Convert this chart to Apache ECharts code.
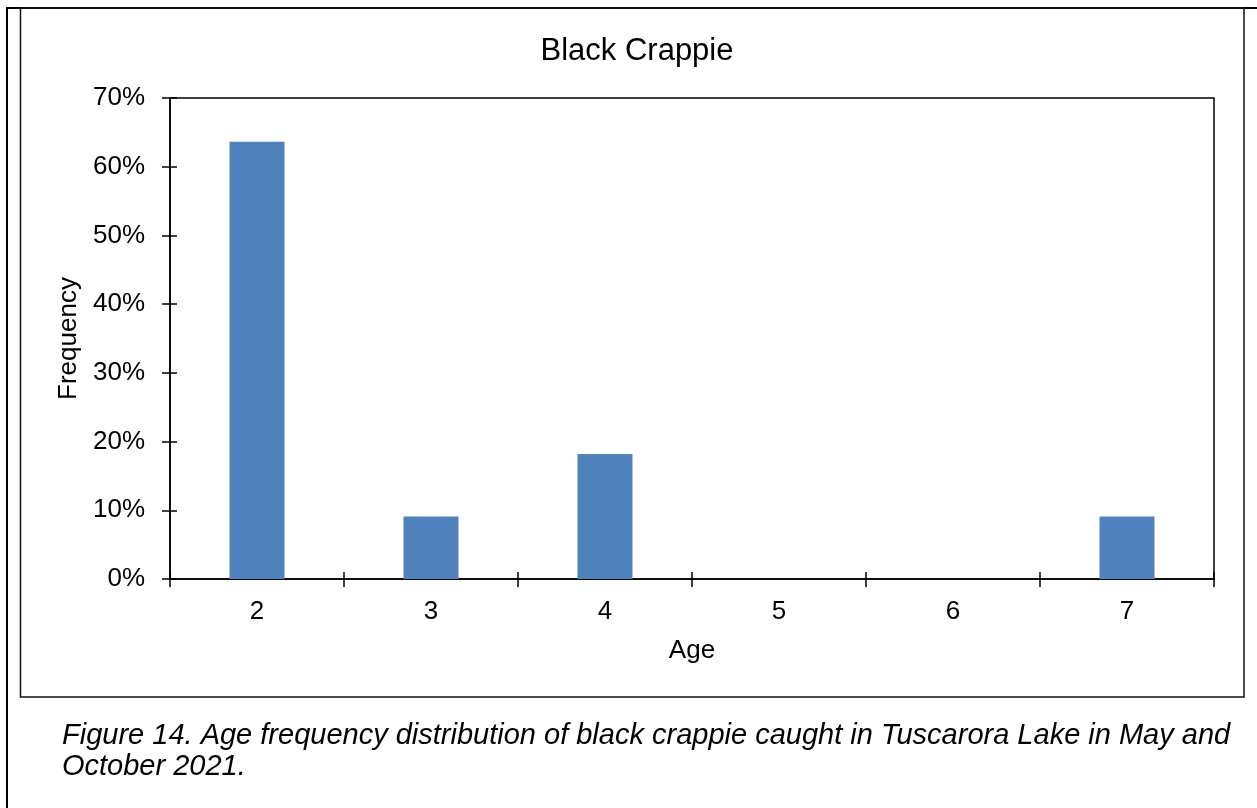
<!DOCTYPE html>
<html>
<head>
<meta charset="utf-8">
<script src="https://cdn.jsdelivr.net/npm/echarts@6/dist/echarts.min.js"></script>
<style>
html,body{margin:0;padding:0;background:#fff;}
#chart{width:1257px;height:808px;}
</style>
</head>
<body>
<div id="chart"></div>
<script>
// Data
const categories = ['2', '3', '4', '5', '6', '7'];
const frequency = [63.64, 9.09, 18.18, 0, 0, 9.09];
const yTicks = [0, 10, 20, 30, 40, 50, 60, 70];
const titleText = 'Black Crappie';
const xName = 'Age';
const yName = 'Frequency';
const captionLines = [
  'Figure 14. Age frequency distribution of black crappie caught in Tuscarora Lake in May and',
  'October 2021.'
];

const FONT = '"Liberation Sans", Arial, sans-serif';
const chart = echarts.init(document.getElementById('chart'));

const yMin = yTicks[0], yMax = yTicks[yTicks.length - 1], yStep = yTicks[1] - yTicks[0];

chart.setOption({
  animation: false,
  backgroundColor: '#fff',
  title: {
    text: titleText,
    left: 632,
    textAlign: 'center',
    top: 31,
    textStyle: { fontFamily: FONT, fontSize: 31, fontWeight: 'normal', color: '#000' }
  },
  grid: {
    left: 170, right: 43, top: 98, bottom: 229,
    show: true, borderColor: '#000', borderWidth: 1.5, backgroundColor: 'transparent'
  },
  xAxis: [
    {
      type: 'category', data: categories, position: 'bottom',
      name: xName, nameLocation: 'middle', nameGap: 59,
      nameTextStyle: { fontFamily: FONT, fontSize: 26, color: '#000' },
      axisLine: { show: true, lineStyle: { color: '#000', width: 1.5 } },
      axisTick: { show: true, inside: false, length: 8, lineStyle: { color: '#000', width: 1.5 } },
      axisLabel: { fontFamily: FONT, fontSize: 26, color: '#000', margin: 20 },
      splitLine: { show: false }
    },
    {
      type: 'category', data: categories, position: 'bottom',
      axisLine: { show: false },
      axisTick: { show: true, inside: true, length: 7, lineStyle: { color: '#000', width: 1.5 } },
      axisLabel: { show: false },
      splitLine: { show: false }
    }
  ],
  yAxis: [
    {
      type: 'value', min: yMin, max: yMax, interval: yStep, position: 'left',
      name: yName, nameLocation: 'middle', nameGap: 88,
      nameTextStyle: { fontFamily: FONT, fontSize: 26, color: '#000' },
      axisLine: { show: true, lineStyle: { color: '#000', width: 1.5 } },
      axisTick: { show: true, inside: false, length: 8, lineStyle: { color: '#000', width: 1.5 } },
      axisLabel: { fontFamily: FONT, fontSize: 26, color: '#000', margin: 25, formatter: '{value}%' },
      splitLine: { show: false }
    },
    {
      type: 'value', min: yMin, max: yMax, interval: yStep, position: 'left',
      axisLine: { show: false },
      axisTick: { show: true, inside: true, length: 7, lineStyle: { color: '#000', width: 1.5 } },
      axisLabel: { show: false },
      splitLine: { show: false }
    }
  ],
  series: [{
    type: 'bar', data: frequency, xAxisIndex: 0, yAxisIndex: 0,
    barWidth: 55,
    itemStyle: { color: '#4F81BD' }
  }],
  graphic: [
    { type: 'line', shape: { x1: 6, y1: 8, x2: 1257, y2: 8 }, style: { stroke: '#000', lineWidth: 2 } },
    { type: 'line', shape: { x1: 7, y1: 8, x2: 7, y2: 808 }, style: { stroke: '#000', lineWidth: 2 } },
    { type: 'rect', shape: { x: 20.5, y: 8, width: 1223.5, height: 689 }, style: { fill: 'none', stroke: '#111', lineWidth: 1.5 } },
    { type: 'text', left: 62, top: 721, style: { text: captionLines[0], font: 'italic 29px ' + FONT, fill: '#000' } },
    { type: 'text', left: 62, top: 752, style: { text: captionLines[1], font: 'italic 29px ' + FONT, fill: '#000' } }
  ]
});
</script>
</body>
</html>
